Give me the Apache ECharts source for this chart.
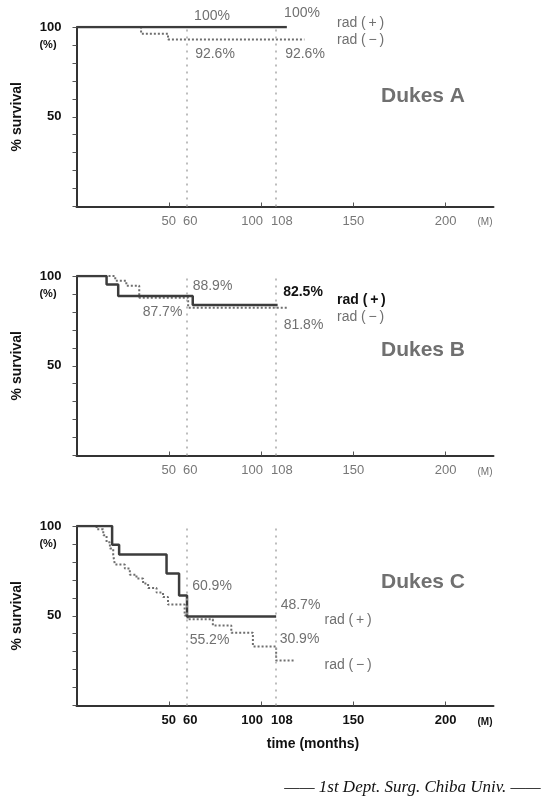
<!DOCTYPE html>
<html>
<head>
<meta charset="utf-8">
<script src="https://cdn.jsdelivr.net/npm/echarts@6/dist/echarts.min.js"></script>
<style>
  html, body { margin: 0; padding: 0; background: #fff; }
  #survival { width: 553px; height: 797px; }
</style>
</head>
<body>
<div id="survival"></div>
<script>
  // step start (months) and % survival
  const aPlusT = [0, 114];
  const aPlusS = [100, 100];
  const aMinusT = [0, 35, 49.6, 123.5];
  const aMinusS = [100, 96.3, 93, 93];

  const bPlusT = [0, 16.3, 22.6, 63, 109];
  const bPlusS = [100, 95.3, 88.9, 83.8, 83.8];
  const bMinusT = [0, 21, 27, 34, 60.5, 115];
  const bMinusS = [100, 97.4, 94.6, 87.9, 82.3, 82.3];

  const cPlusT = [0, 19.3, 23.1, 48.8, 55.6, 59.9, 108.2];
  const cPlusS = [100, 89.6, 84.1, 73.5, 61.3, 49.6, 49.6];
  const cMinusT = [0, 10.9, 14.5, 16.3, 18.1, 19.9, 20.8, 26.2, 28.9, 32.5, 36.1, 38.8, 43.4, 46.9, 49.6, 58.6, 60.2, 73.9, 83.9, 95.6, 108.2, 117.8];
  const cMinusS = [100, 98.2, 94.8, 91, 87.4, 83.7, 78.5, 76.3, 72.9, 70.7, 67.9, 65.5, 62.9, 60.4, 56.2, 50.2, 48, 44.6, 40.5, 32.9, 25.1, 25.1];

  const xTickVals = [50, 100, 150, 200];
  const xLabelVals = [50, 60, 100, 108, 150, 200];
  const refMonths = [60, 108];
  const panelTitles = ['Dukes A', 'Dukes B', 'Dukes C'];

  const pairs = (t, s) => t.map((v, i) => [v, s[i]]);

  const chart = echarts.init(document.getElementById('survival'));

  const gridTops = [27, 276, 526];
  const grids = gridTops.map(top => ({ left: 76.5, top: top, width: 417, height: 179.5 }));

  const xAxes = [0, 1, 2].map(i => {
    const bold = i === 2;
    const col = bold ? '#111' : '#777';
    const base = { color: col, fontSize: 13, fontWeight: bold ? 'bold' : 'normal', fontFamily: 'Liberation Sans' };
    return {
      type: 'value', gridIndex: i, min: 0, max: 226,
      axisLine: { lineStyle: { color: '#333', width: 2 } },
      axisTick: { show: true, inside: true, length: 4, customValues: xTickVals, lineStyle: { color: '#555' } },
      axisLabel: {
        customValues: xLabelVals, margin: 8, ...base,
        formatter: v => v === 100 ? '{l|100}' : v === 108 ? '{r|108}' : v === 60 ? '{m|60}' : String(v),
        rich: {
          l: { ...base, padding: [0, 18, 0, 0] },
          r: { ...base, padding: [0, 0, 0, 12] },
          m: { ...base, padding: [0, 0, 0, 6] }
        }
      },
      splitLine: { show: false }
    };
  });

  const yAxes = [0, 1, 2].map(i => ({
    type: 'value', gridIndex: i, min: 0, max: 100, interval: 10,
    name: '% survival', nameLocation: 'middle', nameGap: 52, nameRotate: 90,
    nameTextStyle: { color: '#111', fontSize: 14, fontWeight: 'bold', fontFamily: 'Liberation Sans' },
    axisLine: { show: true, lineStyle: { color: '#333', width: 2 } },
    axisTick: { show: true, length: 4, lineStyle: { color: '#555' } },
    axisLabel: {
      color: '#111', fontSize: 13, fontWeight: 'bold', fontFamily: 'Liberation Sans', margin: 15,
      formatter: v => (v === 50 || v === 100) ? String(v) : ''
    },
    splitLine: { show: false }
  }));

  const plusLine = (data, i) => ({
    name: 'rad (+)', type: 'line', step: 'end', xAxisIndex: i, yAxisIndex: i,
    data: data, symbol: 'none', z: 3,
    lineStyle: { color: '#3c3c3c', width: 2.5 }
  });
  const minusLine = (data, i) => ({
    name: 'rad (-)', type: 'line', step: 'end', xAxisIndex: i, yAxisIndex: i,
    data: data, symbol: 'none', z: 2,
    lineStyle: { color: '#6e6e6e', width: 2, type: [2, 2] },
    markLine: {
      silent: true, symbol: 'none', label: { show: false },
      lineStyle: { color: '#a8a8a8', width: 1.5, type: [2, 5] },
      data: refMonths.map(m => ({ xAxis: m }))
    }
  });

  const txt = (x, y, text, font, fill, align) => ({
    type: 'text', x: x, y: y, silent: true,
    style: { text: text, font: font, fill: fill, textAlign: align || 'center', textVerticalAlign: 'middle' }
  });
  const pct = '14px "Liberation Sans"';
  const grey = '#707070';
  const title = 'bold 21px "Liberation Sans"';
  const radP = 'rad (\u2009+\u2009)';
  const radM = 'rad (\u2009\u2212\u2009)';

  chart.setOption({
    animation: false,
    grid: grids,
    xAxis: xAxes,
    yAxis: yAxes,
    series: [
      minusLine(pairs(aMinusT, aMinusS), 0),
      plusLine(pairs(aPlusT, aPlusS), 0),
      minusLine(pairs(bMinusT, bMinusS), 1),
      plusLine(pairs(bPlusT, bPlusS), 1),
      minusLine(pairs(cMinusT, cMinusS), 2),
      plusLine(pairs(cPlusT, cPlusS), 2)
    ],
    graphic: [
      // Dukes A
      txt(212, 16, '100%', pct, grey),
      txt(302, 13, '100%', pct, grey),
      txt(337, 23, radP, pct, grey, 'left'),
      txt(337, 40, radM, pct, grey, 'left'),
      txt(215, 54, '92.6%', pct, grey),
      txt(305, 54, '92.6%', pct, grey),
      txt(423, 96, panelTitles[0], title, grey),
      // Dukes B
      txt(212.5, 286, '88.9%', pct, grey),
      txt(303, 292, '82.5%', 'bold 14px "Liberation Sans"', '#111'),
      txt(337, 300, radP, 'bold 14px "Liberation Sans"', '#111', 'left'),
      txt(337, 317, radM, pct, grey, 'left'),
      txt(162.5, 312, '87.7%', pct, grey),
      txt(303.5, 325, '81.8%', pct, grey),
      txt(423, 350, panelTitles[1], title, grey),
      // Dukes C
      txt(212, 586, '60.9%', pct, grey),
      txt(300.5, 605, '48.7%', pct, grey),
      txt(324.5, 620, radP, pct, grey, 'left'),
      txt(209.5, 640, '55.2%', pct, grey),
      txt(299.5, 639, '30.9%', pct, grey),
      txt(324.5, 665, radM, pct, grey, 'left'),
      txt(423, 582, panelTitles[2], title, grey),
      // axis bits
      txt(48, 45, '(%)', 'bold 11px "Liberation Sans"', '#111'),
      txt(48, 294, '(%)', 'bold 11px "Liberation Sans"', '#111'),
      txt(48, 544, '(%)', 'bold 11px "Liberation Sans"', '#111'),
      txt(485, 222, '(M)', '10px "Liberation Sans"', grey),
      txt(485, 472, '(M)', '10px "Liberation Sans"', grey),
      txt(485, 722, '(M)', 'bold 10px "Liberation Sans"', '#111'),
      txt(313, 744, 'time (months)', 'bold 14px "Liberation Sans"', '#111'),
      txt(412.5, 788, '—— 1st Dept. Surg. Chiba Univ. ——', 'italic 17px "Liberation Serif"', '#111')
    ]
  });
</script>
</body>
</html>
